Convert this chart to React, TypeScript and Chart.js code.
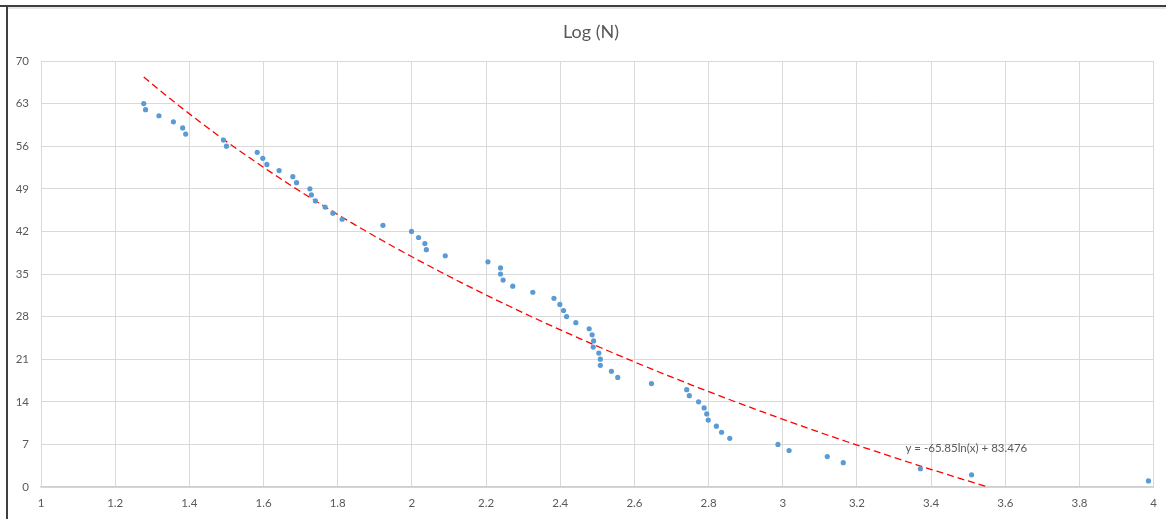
import React, { useEffect, useRef } from "react";
import { Chart, registerables } from "chart.js";

Chart.register(...registerables);

const chartTitle = "Log (N)";

// Log(N) values (x) and rank values (y)
const xValues: number[] = [
  1.277, 1.282, 1.318, 1.357, 1.382, 1.390, 1.492, 1.500, 1.583, 1.598,
  1.609, 1.642, 1.679, 1.689, 1.725, 1.729, 1.740, 1.766, 1.787, 1.812,
  1.922, 1.999, 2.018, 2.035, 2.039, 2.090, 2.205, 2.239, 2.239, 2.246,
  2.272, 2.326, 2.383, 2.399, 2.409, 2.417, 2.442, 2.478, 2.486, 2.490,
  2.489, 2.504, 2.508, 2.508, 2.538, 2.555, 2.646, 2.741, 2.748, 2.773,
  2.788, 2.795, 2.799, 2.821, 2.835, 2.857, 2.987, 3.017, 3.120, 3.163,
  3.371, 3.509, 3.986,
];
const yValues: number[] = [
  63, 62, 61, 60, 59, 58, 57, 56, 55, 54,
  53, 52, 51, 50, 49, 48, 47, 46, 45, 44,
  43, 42, 41, 40, 39, 38, 37, 36, 35, 34,
  33, 32, 31, 30, 29, 28, 27, 26, 25, 24,
  23, 22, 21, 20, 19, 18, 17, 16, 15, 14,
  13, 12, 11, 10, 9, 8, 7, 6, 5, 4,
  3, 2, 1,
];

// Logarithmic trendline shown on the chart: y = -65.85 ln(x) + 83.476
const trendSlope = -65.85;
const trendIntercept = 83.476;
const trendLabel = "y = -65.85ln(x) + 83.476";
const trendLabelPos = { x: 3.495, y: 6.4 };

const xTicksMin = 1;
const xTicksMax = 4;
const xTickStep = 0.2;
const yTicksMin = 0;
const yTicksMax = 70;
const yTickStep = 7;

const FONT = "Lato, 'Open Sans', 'Liberation Sans', sans-serif";
const TEXT = "#595959";
const GRID = "#d9d9d9";

function buildTrend() {
  const xmin = Math.min(...xValues);
  const xmax = Math.max(...xValues);
  const xZero = Math.exp(trendIntercept / -trendSlope);
  const xEnd = Math.min(xmax, xZero);
  const pts: { x: number; y: number }[] = [];
  const n = 120;
  for (let i = 0; i <= n; i++) {
    const x = xmin + ((xEnd - xmin) * i) / n;
    pts.push({ x, y: trendSlope * Math.log(x) + trendIntercept });
  }
  return pts;
}

const decorPlugin = {
  id: "decor",
  beforeDraw(chart: any) {
    const ctx = chart.ctx;
    ctx.save();
    ctx.fillStyle = "#ffffff";
    ctx.fillRect(0, 0, chart.width, chart.height);
    // light strip under top frame
    ctx.fillStyle = "#e6e6e6";
    ctx.fillRect(7, 7, chart.width - 7, 2);
    // frame lines (top and left)
    ctx.fillStyle = "#3f3f3f";
    ctx.fillRect(0, 5, chart.width, 2);
    ctx.fillRect(6, 5, 2, chart.height - 5);
    ctx.restore();
  },
  afterDraw(chart: any) {
    const ctx = chart.ctx;
    ctx.save();
    ctx.fillStyle = TEXT;
    ctx.font = `18px ${FONT}`;
    ctx.textAlign = "center";
    ctx.textBaseline = "middle";
    ctx.fillText(chartTitle, 591, 32);
    const xs = chart.scales.x;
    const ys = chart.scales.y;
    ctx.font = `11.5px ${FONT}`;
    ctx.fillText(trendLabel, xs.getPixelForValue(trendLabelPos.x), ys.getPixelForValue(trendLabelPos.y));
    ctx.restore();
  },
};

export default function App() {
  const ref = useRef<HTMLCanvasElement | null>(null);
  useEffect(() => {
    document.body.style.margin = "0";
    const canvas = ref.current!;
    const points = xValues.map((x, i) => ({ x, y: yValues[i] }));
    const chart = new Chart(canvas, {
      type: "scatter",
      data: {
        datasets: [
          {
            label: "Log (N)",
            data: points,
            backgroundColor: "#5b9bd5",
            borderColor: "#5b9bd5",
            pointRadius: 2.6,
            pointBorderWidth: 0,
          },
          {
            type: "line",
            label: "Trend",
            data: buildTrend(),
            borderColor: "#ff0000",
            borderWidth: 1.3,
            borderDash: [7, 4],
            pointRadius: 0,
            fill: false,
            tension: 0,
          } as any,
        ],
      },
      options: {
        animation: false,
        responsive: false,
        maintainAspectRatio: false,
        layout: { padding: { left: 8, right: 12, top: 61, bottom: 0 } },
        plugins: {
          legend: { display: false },
          title: { display: false },
          tooltip: { enabled: false },
        },
        scales: {
          x: {
            type: "linear",
            min: xTicksMin,
            max: xTicksMax,
            ticks: {
              stepSize: xTickStep,
              color: TEXT,
              font: { family: FONT, size: 11.5 },
              padding: 9,
              maxRotation: 0,
              autoSkip: false,
              callback: (v: any) => String(Number(Number(v).toFixed(1))),
            },
            grid: { color: GRID, drawTicks: false, lineWidth: 1 },
            border: { color: "#d0d0d0", width: 1.5 },
            afterFit: (s: any) => {
              s.height = 32;
            },
          },
          y: {
            type: "linear",
            min: yTicksMin,
            max: yTicksMax,
            ticks: {
              stepSize: yTickStep,
              color: TEXT,
              font: { family: FONT, size: 11.5 },
              padding: 12,
            },
            grid: { color: GRID, drawTicks: false, lineWidth: 1 },
            border: { color: GRID, width: 1 },
            afterFit: (s: any) => {
              s.width = 33;
            },
          },
        },
      },
      plugins: [decorPlugin],
    });
    return () => chart.destroy();
  }, []);
  return (
    <div style={{ position: "absolute", left: 0, top: 0, width: 1166, height: 519 }}>
      <canvas ref={ref} width={1166} height={519} style={{ display: "block" }} />
    </div>
  );
}
